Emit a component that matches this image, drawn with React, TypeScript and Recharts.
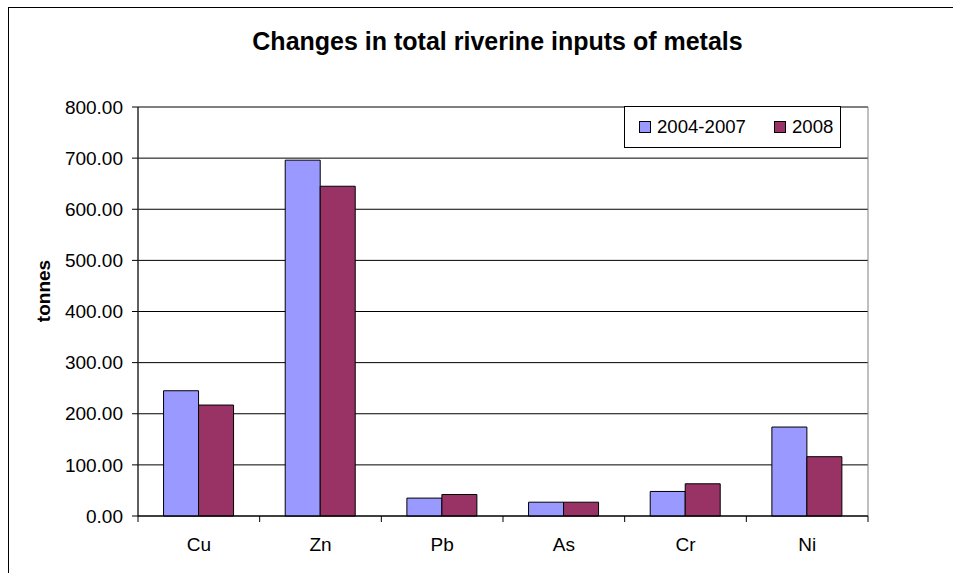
import React from "react";
import {
  BarChart,
  Bar,
  XAxis,
  YAxis,
  CartesianGrid,
  Legend,
  ReferenceArea,
} from "recharts";

const metals = ["Cu", "Zn", "Pb", "As", "Cr", "Ni"];
const period2004to2007 = [245, 696, 35, 27, 48, 174];
const year2008 = [217, 645, 42, 27, 63, 116];
const yTicks = [0, 100, 200, 300, 400, 500, 600, 700, 800];

const data = metals.map((metal, i) => ({
  metal,
  "2004-2007": period2004to2007[i],
  "2008": year2008[i],
}));

const FONT = "'Liberation Sans', Arial, sans-serif";
const W = 953;
const H = 573;
const PLOT_LEFT = 138;
const PLOT_RIGHT = 868;
const PLOT_BOTTOM = 516;
const BAND = (PLOT_RIGHT - PLOT_LEFT) / metals.length;

const MetalTick = (props: any) => {
  const { x, payload, index } = props;
  const left = x - BAND / 2;
  return (
    <g>
      <line x1={left} y1={PLOT_BOTTOM} x2={left} y2={PLOT_BOTTOM + 6} stroke="#000" />
      {index === metals.length - 1 && (
        <line
          x1={x + BAND / 2}
          y1={PLOT_BOTTOM}
          x2={x + BAND / 2}
          y2={PLOT_BOTTOM + 6}
          stroke="#000"
        />
      )}
      <text x={x} y={551} textAnchor="middle" fontSize={19} fontFamily={FONT} fill="#000">
        {payload.value}
      </text>
    </g>
  );
};

const LegendBox = (props: any) => {
  const items = props.payload || [];
  const offsets = [15, 150];
  return (
    <div
      style={{
        position: "relative",
        width: 217,
        height: 42,
        boxSizing: "border-box",
        border: "1px solid #000",
        background: "#fff",
        fontFamily: FONT,
        fontSize: 18.6,
      }}
    >
      {items.map((it: any, i: number) => (
        <div
          key={it.value}
          style={{
            position: "absolute",
            left: offsets[i] - 1,
            top: 0,
            height: 40,
            display: "flex",
            alignItems: "center",
            whiteSpace: "nowrap",
          }}
        >
          <span
            style={{
              display: "inline-block",
              width: 10,
              height: 10,
              background: it.color,
              border: "1px solid #000",
              marginRight: 6,
            }}
          />
          <span style={{ lineHeight: "20px" }}>{it.value}</span>
        </div>
      ))}
    </div>
  );
};

export default function App() {
  return (
    <div
      style={{
        position: "absolute",
        left: 0,
        top: 0,
        width: W,
        height: H,
        overflow: "hidden",
        background: "#fff",
      }}
    >
      <div
        style={{
          position: "absolute",
          left: 8,
          top: 7,
          width: 1000,
          height: 620,
          border: "1px solid #000",
        }}
      />
      <div
        style={{
          position: "absolute",
          left: 0,
          top: 29,
          width: 995,
          textAlign: "center",
          fontFamily: FONT,
          fontWeight: "bold",
          fontSize: 25,
          lineHeight: "25px",
          color: "#000",
        }}
      >
        Changes in total riverine inputs of metals
      </div>
      <div style={{ position: "absolute", left: 0, top: 0 }}>
        <BarChart
          width={W}
          height={H}
          data={data}
          margin={{ top: 107, right: W - PLOT_RIGHT, bottom: H - PLOT_BOTTOM - 40, left: 0 }}
          barCategoryGap="21%"
          barGap={0}
        >
          <CartesianGrid vertical={false} stroke="#000" />
          <ReferenceArea y1={0} y2={800} fill="none" stroke="#808080" strokeWidth={1} />
          <XAxis
            dataKey="metal"
            height={40}
            axisLine={{ stroke: "#000" }}
            tickLine={false}
            tick={<MetalTick />}
            interval={0}
          />
          <YAxis
            width={PLOT_LEFT}
            domain={[0, 800]}
            ticks={yTicks}
            interval={0}
            tickFormatter={(v: number) => v.toFixed(2)}
            axisLine={{ stroke: "#000" }}
            tickLine={{ stroke: "#000" }}
            tickSize={6}
            tickMargin={9}
            tick={{ fontSize: 19, fontFamily: FONT, fill: "#000" }}
            label={
              <text
                x={49}
                y={311}
                transform="rotate(-90 49 311)"
                textAnchor="middle"
                fontSize={19}
                fontWeight="bold"
                fontFamily={FONT}
                fill="#000"
              >
                tonnes
              </text>
            }
          />
          <Legend
            layout="vertical"
            align="center"
            verticalAlign="middle"
            content={<LegendBox />}
            wrapperStyle={{ left: 624, top: 106, width: 217, height: 42 }}
          />
          <Bar
            dataKey="2004-2007"
            fill="#9999FF"
            stroke="#000"
            strokeWidth={1}
            isAnimationActive={false}
          />
          <Bar
            dataKey="2008"
            fill="#993366"
            stroke="#000"
            strokeWidth={1}
            isAnimationActive={false}
          />
        </BarChart>
      </div>
    </div>
  );
}
